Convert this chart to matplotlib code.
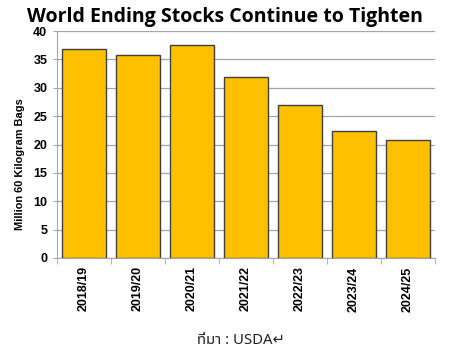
import matplotlib
matplotlib.use("Agg")
import matplotlib.pyplot as plt

categories = ["2018/19", "2019/20", "2020/21", "2021/22", "2022/23", "2023/24", "2024/25"]
values = [36.9, 35.8, 37.5, 31.9, 26.9, 22.3, 20.8]
yticks = [0, 5, 10, 15, 20, 25, 30, 35, 40]

plt.rcParams["font.family"] = ["Liberation Sans", "DejaVu Sans"]

fig = plt.figure(figsize=(4.51, 3.56), dpi=100)
ax = fig.add_axes([57/451, 1-258/356, 378/451, 227/356])

x = range(len(categories))
ax.bar(x, values, width=0.8, color="#FFC000", edgecolor="#404040", linewidth=1.0, zorder=3)

ax.set_xlim(-0.5, len(categories) - 0.5)
ax.set_ylim(0, 40)
ax.set_yticks(yticks)
ax.set_yticklabels([str(t) for t in yticks], fontsize=9, fontweight="bold")
ax.yaxis.grid(True, color="#A6A6A6", linewidth=0.9, zorder=0)
ax.set_axisbelow(True)

ax.set_xticks(list(x))
ax.set_xticklabels(categories, rotation=90, fontsize=9, fontweight="bold")
ax.set_xticks([i - 0.5 for i in range(len(categories) + 1)], minor=True)
ax.tick_params(axis="x", which="major", length=0, pad=6)
ax.tick_params(axis="x", which="minor", length=4, color="#A6A6A6")
ax.tick_params(axis="y", length=3, color="#A6A6A6", pad=4)

for s in ["top", "right"]:
    ax.spines[s].set_visible(False)
for s in ["left", "bottom"]:
    ax.spines[s].set_color("#A6A6A6")

fig.text(20/451, 1-164/356, "Million 60 Kilogram Bags", rotation=90, ha="center", va="center",
         fontsize=7.9, fontweight="bold")

fig.text(0.498, 0.953, "World Ending Stocks Continue to Tighten", ha="center", va="center",
         fontsize=14, fontweight="bold", family=["Open Sans", "DejaVu Sans"])
fig.text(241/451, 1-340/356, "ที่มา : USDA\u21b5", ha="center", va="center", fontsize=10.7,
         color="#202030",
         family=["Noto Sans Thai", "Loma", "Garuda", "Tlwg Typo", "Noto Sans", "DejaVu Sans"])

fig.savefig("out.png", dpi=100)
